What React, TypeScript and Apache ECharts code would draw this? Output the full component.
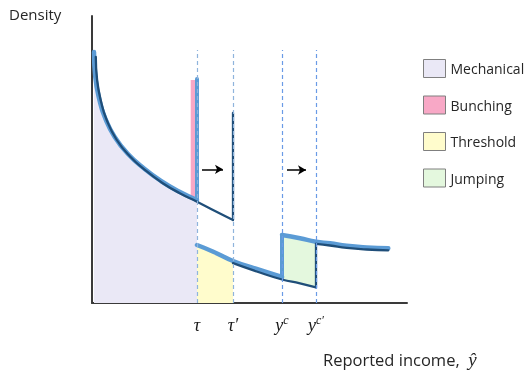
import React, { useEffect, useRef } from "react";
import * as echarts from "echarts";

// Curve samples (x: reported income, y: density)
const mainLight = [[2, 251], [3.3, 226], [7.7, 202], [12.7, 186], [22.7, 166], [36, 149], [52.7, 134], [69, 122], [86, 112], [105, 103]];
const mainDark = [[3.8, 246], [5.1, 223], [9.5, 199.5], [14.5, 183.5], [24.5, 163.5], [37.8, 146.8], [54.5, 131.8], [70.8, 119.8], [87.8, 109.8], [105, 101.3], [123, 92], [141, 83]];
const lowerLight = [[105, 58], [121.3, 51.3], [141, 42], [164.7, 34], [190, 26]];
const upperLight = [[190, 68], [208, 64.7], [224, 61.3], [238, 59.7], [254.7, 57.2], [274.7, 55.6], [296.3, 54.8]];
const lowerDark = [[141, 39.8], [164.7, 31.5], [190, 23.5], [208, 19.7], [224, 15.7]];
const tailDark = [[224, 59.2], [238, 57.5], [254.7, 55.1], [274.7, 53.5], [296.3, 52.7]];
const tauSpike = [[105, 103], [105, 224]];
const tauPrimeRise = [[141, 83], [141, 190]];
const ycRise = [[190, 26], [190, 68]];
const ycPrimeRise = [[224, 15.7], [224, 59.2]];
const bunching = [[98.7, 223], [103.2, 223]];
const bunchingBase = 106;

const thresholds = [105, 141, 190, 224];
const tickBase = ["τ", "τ′", "y", "y"];
const tickSup = ["", "", "c", "c′"];
const shifts = [
  [[110, 133.7], [131, 133.7]],
  [[195, 133], [214, 133]],
];
const dashTop = 253;

const legendNames = ["Mechanical", "Bunching", "Threshold", "Jumping"];
const legendColors = ["#eae8f6", "#f8a8c6", "#fffccc", "#e4f8de"];

const LIGHT = "#5b9bd5";
const DARK = "#1f4e79";

function lineSeries(data: number[][], color: string, width: number, smooth: boolean, z: number) {
  return {
    type: "line",
    data,
    smooth,
    symbol: "none",
    silent: true,
    z,
    lineStyle: { color, width, cap: "round", join: "round" },
  };
}

export default function App() {
  const ref = useRef<HTMLDivElement>(null);
  useEffect(() => {
    if (!ref.current) return;
    const chart = echarts.init(ref.current, undefined, { renderer: "svg" });

    const threshold = lowerLight.filter(([x]) => x <= thresholds[1]);
    const jumpLow = lowerDark.filter(([x]) => x >= thresholds[2] && x <= thresholds[3]);
    const jumpHigh = upperLight.filter(([x]) => x >= thresholds[2] && x <= thresholds[3]);

    const option: any = {
      animation: false,
      textStyle: { fontFamily: "Open Sans" },
      grid: { left: 92, right: 122, top: 16, bottom: 67 },
      xAxis: {
        type: "value",
        min: 0,
        max: 315,
        axisLine: { show: true, onZero: false, lineStyle: { color: "#3a3a3a", width: 2 } },
        axisTick: { show: false },
        splitLine: { show: false },
        axisLabel: {
          customValues: thresholds,
          margin: 11,
          color: "#1a1a1a",
          formatter: (v: number) => {
            const i = thresholds.indexOf(v);
            if (i < 0) return "";
            return tickSup[i] ? `{b|${tickBase[i]}}{s|${tickSup[i]}}` : `{b|${tickBase[i]}}`;
          },
          rich: {
            b: { fontFamily: "Liberation Serif", fontStyle: "italic", fontSize: 18, lineHeight: 22, color: "#1a1a1a" },
            s: { fontFamily: "Liberation Serif", fontStyle: "italic", fontSize: 12, lineHeight: 12, verticalAlign: "top", color: "#1a1a1a" },
          },
        },
      },
      yAxis: {
        type: "value",
        min: 0,
        max: 287,
        axisLine: { show: true, onZero: false, lineStyle: { color: "#3a3a3a", width: 2 } },
        axisTick: { show: false },
        axisLabel: { show: false },
        splitLine: { show: false },
      },
      legend: {
        orient: "vertical",
        left: 423,
        top: 59,
        padding: 0,
        itemWidth: 22,
        itemHeight: 18,
        itemGap: 17.5,
        icon: "rect",
        selectedMode: false,
        textStyle: { fontFamily: "Open Sans", fontSize: 14, color: "#262626" },
        data: legendNames.map((name, i) => ({
          name,
          itemStyle: { color: legendColors[i], borderColor: "#7f7f7f", borderWidth: 1 },
        })),
      },
      graphic: [
        {
          type: "text",
          left: 9,
          top: 6,
          style: { text: "Density", fontFamily: "Open Sans", fontSize: 15, fill: "#262626" },
        },
        {
          type: "text",
          left: 323,
          top: 350,
          style: {
            text: "{a|Reported income,  }{b|ŷ}",
            rich: {
              a: { fontFamily: "Open Sans", fontSize: 16.5, fill: "#262626", lineHeight: 24 },
              b: { fontFamily: "Liberation Serif", fontStyle: "italic", fontSize: 19, fill: "#262626", lineHeight: 24 },
            },
          },
        },
      ],
      series: [
        {
          name: "Mechanical",
          type: "line",
          data: mainLight,
          smooth: true,
          symbol: "none",
          silent: true,
          z: 1,
          color: legendColors[0],
          lineStyle: { width: 0 },
          areaStyle: { color: legendColors[0], opacity: 1 },
        },
        {
          name: "Bunching",
          type: "line",
          data: bunching,
          symbol: "none",
          silent: true,
          z: 1,
          color: legendColors[1],
          lineStyle: { width: 0 },
          areaStyle: { color: legendColors[1], opacity: 1, origin: bunchingBase },
        },
        {
          name: "Threshold",
          type: "line",
          data: threshold,
          smooth: true,
          symbol: "none",
          silent: true,
          z: 1,
          color: legendColors[2],
          lineStyle: { width: 0 },
          areaStyle: { color: legendColors[2], opacity: 1 },
        },
        {
          name: "Jumping",
          type: "custom",
          silent: true,
          z: 1,
          color: legendColors[3],
          data: jumpHigh,
          encode: { x: 0, y: 1 },
          renderItem: (params: any, api: any) => {
            if (params.dataIndex !== 0) return null;
            const pts = [...jumpHigh, ...jumpLow.slice().reverse()].map((p) => api.coord(p));
            return { type: "polygon", shape: { points: pts }, style: { fill: legendColors[3] } };
          },
        },
        {
          name: "guides",
          type: "line",
          data: [],
          silent: true,
          z: 2,
          markLine: {
            silent: true,
            symbol: ["none", "none"],
            label: { show: false },
            lineStyle: { type: [4, 3], width: 1.2, color: "#8fb0d8" },
            data: thresholds.map((x, i) => [
              { coord: [x, 0], lineStyle: { type: [4, 3], width: 1.2, color: i < 2 ? "#8fb4dc" : "#6a9be6" } },
              { coord: [x, dashTop] },
            ]),
          },
        },
        lineSeries(mainLight, LIGHT, 4.5, true, 3),
        lineSeries(tauSpike, LIGHT, 4, false, 3),
        lineSeries(lowerLight, LIGHT, 4.5, true, 3),
        lineSeries(ycRise, LIGHT, 4, false, 3),
        lineSeries(upperLight, LIGHT, 4.5, true, 3),
        lineSeries(mainDark, DARK, 2.3, true, 4),
        lineSeries(tauPrimeRise, DARK, 2.3, false, 4),
        lineSeries(lowerDark, DARK, 2.3, true, 4),
        lineSeries(ycPrimeRise, DARK, 2.3, false, 4),
        lineSeries(tailDark, DARK, 2.3, true, 4),
        {
          name: "shifts",
          type: "line",
          data: [],
          silent: true,
          z: 5,
          markLine: {
            silent: true,
            symbol: ["none", "arrow"],
            symbolSize: [7, 8],
            label: { show: false },
            lineStyle: { type: "solid", width: 1.5, color: "#000000" },
            data: shifts.map(([a, b]) => [{ coord: a }, { coord: b }]),
          },
        },
      ],
    };
    chart.setOption(option);
    return () => chart.dispose();
  }, []);
  return <div ref={ref} style={{ position: "fixed", left: 0, top: 0, width: 529, height: 370 }} />;
}
